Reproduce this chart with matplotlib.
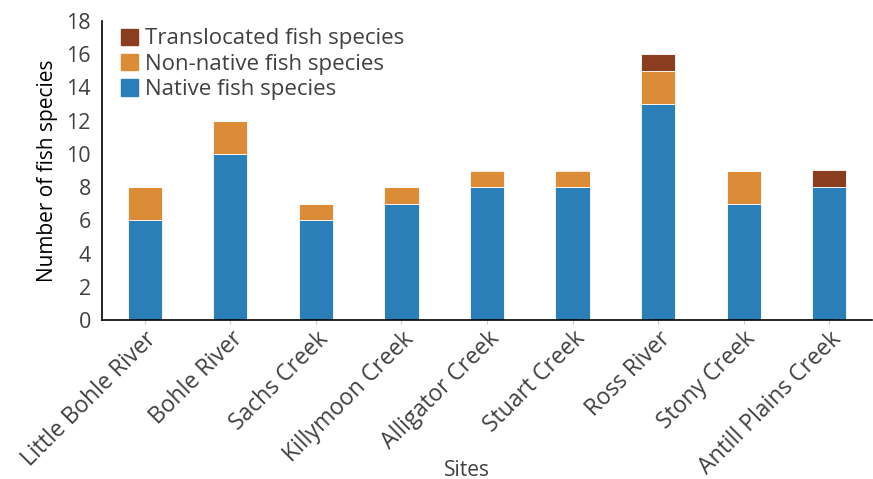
import numpy as np
import matplotlib.pyplot as plt
from matplotlib.patches import Patch

sites = ["Little Bohle River", "Bohle River", "Sachs Creek", "Killymoon Creek",
         "Alligator Creek", "Stuart Creek", "Ross River", "Stony Creek",
         "Antill Plains Creek"]
native = [6, 10, 6, 7, 8, 8, 13, 7, 8]
non_native = [2, 2, 1, 1, 1, 1, 2, 2, 0]
translocated = [0, 0, 0, 0, 0, 0, 1, 0, 1]

c_native = "#2a7fb8"
c_non = "#dc8b37"
c_trans = "#8b3e1f"
txt = "#404040"

plt.rcParams.update({
    "font.family": ["Open Sans", "DejaVu Sans"],
    "font.size": 13,
    "text.color": txt,
    "xtick.color": txt,
    "ytick.color": txt,
})

fig = plt.figure(figsize=(8.73, 4.79), dpi=100)
ax = fig.add_axes([102 / 873, 1 - 320 / 479, 770 / 873, 299 / 479])

x = np.arange(len(sites))
w = 0.4
nat = np.array(native)
non = np.array(non_native)
tr = np.array(translocated)
ax.bar(x, nat, w, color=c_native, edgecolor="white", linewidth=0.6)
ax.bar(x, non, w, bottom=nat, color=c_non, edgecolor="white", linewidth=0.6)
ax.bar(x, tr, w, bottom=nat + non, color=c_trans, edgecolor="white", linewidth=0.6)

ax.set_xlim(-0.5, len(sites) - 0.5)
ax.set_ylim(0, 18)
ax.set_yticks(range(0, 19, 2))
ax.tick_params(axis="y", length=0, pad=8, labelsize=15.5)
ax.tick_params(axis="x", length=3, color="#cccccc", labelsize=16.5, pad=2)
ax.set_xticks(x)
ax.set_xticklabels(sites, rotation=45, ha="right", rotation_mode="anchor")

for s in ["top", "right"]:
    ax.spines[s].set_visible(False)
ax.spines["left"].set_color("black")
ax.spines["bottom"].set_color("black")
ax.spines["left"].set_linewidth(1.2)
ax.spines["bottom"].set_linewidth(1.2)

ax.set_ylabel("Number of fish species", fontsize=15, labelpad=6)
fig.text(467 / 873, 1 - 470 / 479, "Sites", fontsize=15, ha="center", va="center")

handles = [
    Patch(color=c_trans, label="Translocated fish species"),
    Patch(color=c_non, label="Non-native fish species"),
    Patch(color=c_native, label="Native fish species"),
]
ax.legend(handles=handles, loc="upper left", bbox_to_anchor=(0.013, 1.005),
          frameon=False, fontsize=16, handlelength=0.75, handleheight=0.75,
          handletextpad=0.35, labelspacing=0.2, borderaxespad=0)

fig.savefig("out.png", dpi=100)
